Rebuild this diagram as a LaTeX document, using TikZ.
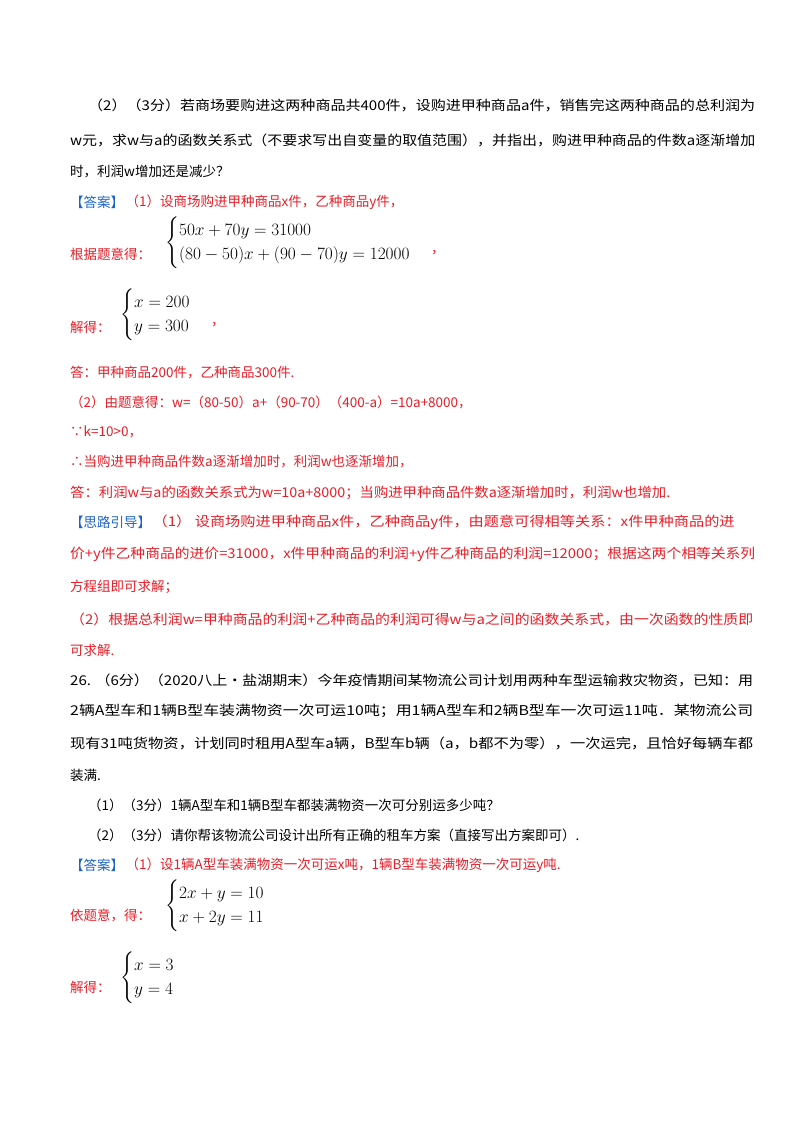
\documentclass[tikz,border=0pt]{standalone}
\usepackage{fontspec}
\usepackage{amsmath}
\usepackage{graphicx}
\setmainfont{Liberation Serif}
\newfontfamily\cjk{Noto Sans CJK SC}
\definecolor{ans}{RGB}{232,30,40}
\definecolor{tag}{RGB}{30,100,200}
\tikzset{ln/.style={anchor=west,inner sep=0pt,font=\cjk\fontsize{13.5}{16}\selectfont},
 rd/.style={ln,text=ans},
 bl/.style={ln,text=tag},
 mth/.style={anchor=west,inner sep=0pt,font=\fontsize{17}{20}\selectfont}}
\newcommand{\fl}[2]{\resizebox{#1pt}{\height}{#2}}
\newcommand{\sys}[1]{\renewcommand{\arraystretch}{1.25}$\begin{cases}#1\end{cases}$}
\begin{document}
\begin{tikzpicture}[x=1pt,y=-1pt]
\useasboundingbox[fill=white] (0,0) rectangle (800,1132);
\node[ln] (l1) at (88,105) {\fl{667}{（2）（3分）若商场要购进这两种商品共400件，设购进甲种商品a件，销售完这两种商品的总利润为}};
\node[ln] (l2) at (70,140) {\fl{685}{w元，求w与a的函数关系式（不要求写出自变量的取值范围），并指出，购进甲种商品的件数a逐渐增加}};
\node[ln] (l3) at (70,172) {时，利润w增加还是减少？};
\node[bl] (t1) at (70,202) {【答案】};
\node[rd] (l4) at ([xshift=1]t1.east) {（1）设商场购进甲种商品x件，乙种商品y件，};
\node[rd] (l5) at (70,254) {根据题意得：};
\node[mth] (s1) at (165,243) {\sys{50x+70y=31000\\(80-50)x+(90-70)y=12000}};
\node[rd] (c1) at ([yshift=-10]s1.east) {\ ，};
\node[rd] (l6) at (70,327) {解得：};
\node[mth] (s2) at (120,315) {\sys{x=200\\y=300}};
\node[rd] (c2) at ([yshift=-10]s2.east) {\ ，};
\node[rd] (l7) at (70,373) {答：甲种商品200件，乙种商品300件.};
\node[rd] (l8) at (70,402) {（2）由题意得：w=（80-50）a+（90-70）（400-a）=10a+8000，};
\node[rd] (l9) at (70,432) {∵k=10>0，};
\node[rd] (l10) at (70,462) {∴当购进甲种商品件数a逐渐增加时，利润w也逐渐增加，};
\node[rd] (l11) at (70,493) {\fl{600}{答：利润w与a的函数关系式为w=10a+8000；当购进甲种商品件数a逐渐增加时，利润w也增加.}};
\node[bl] (t2) at (70,522) {【思路引导】};
\node[rd] (l12) at ([xshift=1]t2.east) {\fl{582}{（1） 设商场购进甲种商品x件，乙种商品y件，由题意可得相等关系：x件甲种商品的进}};
\node[rd] (l13) at (70,554) {\fl{685}{价+y件乙种商品的进价=31000，x件甲种商品的利润+y件乙种商品的利润=12000；根据这两个相等关系列}};
\node[rd] (l14) at (70,587) {方程组即可求解；};
\node[rd] (l15) at (70,619) {\fl{683}{（2）根据总利润w=甲种商品的利润+乙种商品的利润可得w与a之间的函数关系式，由一次函数的性质即}};
\node[rd] (l16) at (70,650) {可求解.};
\node[ln] (l17) at (70,680) {\fl{683}{26. （6分）（2020八上·盐湖期末）今年疫情期间某物流公司计划用两种车型运输救灾物资，已知：用}};
\node[ln] (l18) at (70,711) {\fl{683}{2辆\textit{A}型车和1辆\textit{B}型车装满物资一次可运10吨；用1辆\textit{A}型车和2辆\textit{B}型车一次可运11吨．某物流公司}};
\node[ln] (l19) at (70,743) {\fl{683}{现有31吨货物资，计划同时租用\textit{A}型车\textit{a}辆，\textit{B}型车\textit{b}辆（\textit{a}，\textit{b}都不为零），一次运完，且恰好每辆车都}};
\node[ln] (l20) at (70,775) {装满.};
\node[ln] (l21) at (88,805) {（1）（3分）1辆\textit{A}型车和1辆\textit{B}型车都装满物资一次可分别运多少吨？};
\node[ln] (l22) at (88,835) {（2）（3分）请你帮该物流公司设计出所有正确的租车方案（直接写出方案即可）.};
\node[bl] (t3) at (70,865) {【答案】};
\node[rd] (l23) at ([xshift=1]t3.east) {（1）设1辆A型车装满物资一次可运x吨，1辆B型车装满物资一次可运y吨.};
\node[rd] (l24) at (70,915) {依题意，得：};
\node[mth] (s3) at (165,906) {\sys{2x+y=10\\x+2y=11}};
\node[rd] (l25) at (70,987) {解得：};
\node[mth] (s4) at (120,978) {\sys{x=3\\y=4}};
\end{tikzpicture}
\end{document}
